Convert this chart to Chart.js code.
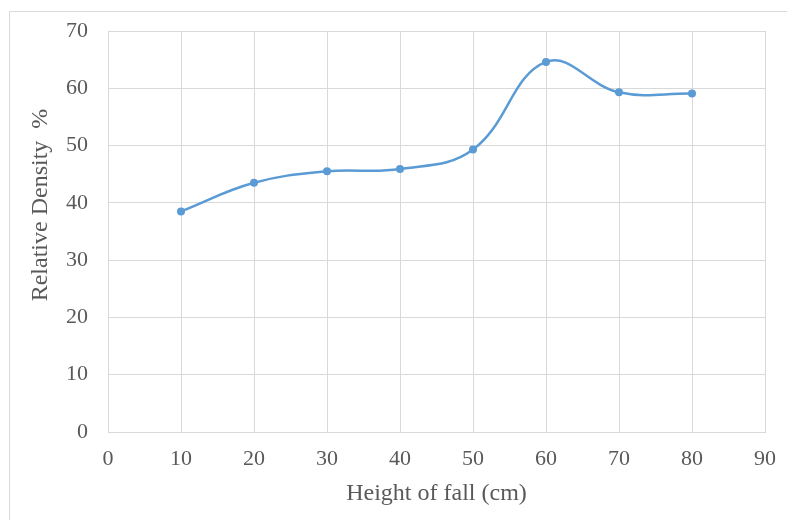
<!DOCTYPE html>
<html>
<head>
<meta charset="utf-8">
<script src="https://cdn.jsdelivr.net/npm/chart.js@4"></script>
<style>
html,body{margin:0;padding:0;background:#fff;}
#wrap{width:787px;height:520px;position:relative;}
</style>
</head>
<body>
<div id="wrap"><canvas id="c" width="787" height="520"></canvas></div>
<script>
const heights = [10, 20, 30, 40, 50, 60, 70, 80];
const relDensity = [38.5, 43.5, 45.5, 45.9, 49.3, 64.6, 59.3, 59.1];
const xTitle = 'Height of fall (cm)';
const yTitle = 'Relative Density  %';

const FAMILY = '"Liberation Serif", "Times New Roman", serif';
const tickFont = {family: FAMILY, size: 22};
const titleFont = {family: FAMILY, size: 24};

const frame = {
  id: 'frame',
  beforeDraw(chart) {
    const ctx = chart.ctx;
    ctx.save();
    ctx.strokeStyle = '#d9d9d9';
    ctx.lineWidth = 1;
    ctx.beginPath();
    ctx.moveTo(9.5, 520);
    ctx.lineTo(9.5, 11.5);
    ctx.lineTo(787, 11.5);
    ctx.stroke();
    ctx.restore();
  },
  afterDraw(chart) {
    const ctx = chart.ctx;
    ctx.save();
    ctx.fillStyle = '#595959';
    ctx.font = titleFont.size + 'px ' + FAMILY;
    ctx.textAlign = 'center';
    ctx.textBaseline = 'middle';
    ctx.translate(41, 205);
    ctx.rotate(-Math.PI / 2);
    ctx.fillText(yTitle, 0, 0);
    ctx.restore();
  }
};

new Chart(document.getElementById('c'), {
  type: 'line',
  data: {
    datasets: [{
      data: heights.map((h, i) => ({x: h, y: relDensity[i]})),
      borderColor: '#5b9bd5',
      backgroundColor: '#5b9bd5',
      borderWidth: 2.5,
      pointRadius: 4,
      pointBorderWidth: 0,
      tension: 0.4,
      cubicInterpolationMode: 'default',
      fill: false
    }]
  },
  options: {
    responsive: false,
    animation: false,
    devicePixelRatio: 1,
    layout: {padding: {left: 0, top: 31, right: 22, bottom: 0}},
    plugins: {legend: {display: false}, tooltip: {enabled: false}},
    scales: {
      x: {
        type: 'linear', min: 0, max: 90,
        ticks: {stepSize: 10, color: '#595959', font: tickFont, padding: 14},
        grid: {color: '#d9d9d9', drawTicks: false},
        border: {color: '#d9d9d9'},
        title: {display: true, text: xTitle, color: '#595959', font: titleFont, padding: {top: 0, bottom: 12}},
        afterFit(s) { s.height = 88; s.paddingLeft = 0; s.paddingRight = 0; }
      },
      y: {
        min: 0, max: 70,
        ticks: {stepSize: 10, color: '#595959', font: tickFont, padding: 20},
        grid: {color: '#d9d9d9', drawTicks: false},
        border: {color: '#d9d9d9'},
        title: {display: false, text: yTitle},
        afterFit(s) { s.width = 108; s.paddingTop = 0; s.paddingBottom = 0; }
      }
    }
  },
  plugins: [frame]
});
</script>
</body>
</html>
